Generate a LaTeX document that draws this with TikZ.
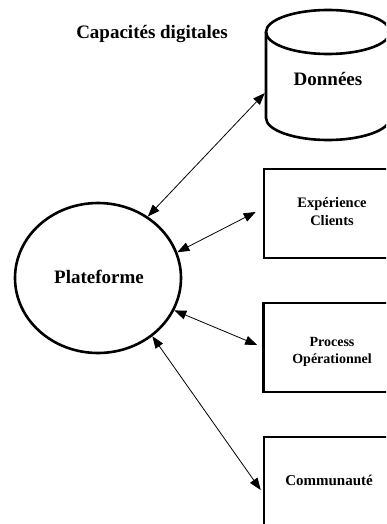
\documentclass[tikz,border=0pt]{standalone}
\usepackage{fontspec}
\setmainfont{Liberation Serif}
\usetikzlibrary{shapes.geometric,arrows.meta}
\begin{document}
\begin{tikzpicture}[x=1pt,y=-1pt,
  shapeline/.style={line width=2.6pt},
  capbox/.style={shapeline, draw, rectangle, minimum width=136pt, minimum height=89pt, inner sep=0pt},
  captext/.style={align=center, inner sep=0pt, font=\bfseries\fontsize{14.5}{18}\selectfont},
  bigtext/.style={inner sep=0pt, font=\bfseries\fontsize{19}{23}\selectfont},
  link/.style={line width=0.8pt, {Triangle[length=12pt,width=9pt]}-{Triangle[length=12pt,width=9pt]}}]
\useasboundingbox (0,0) rectangle (386,524);
\clip (0,0) rectangle (386,524);

% title
\node[bigtext, anchor=base] (title) at (152,39) {Capacités digitales};

% cylinder "Données"
\draw[shapeline] (328,32) ellipse [x radius=62, y radius=22];
\draw[shapeline] (266,32) -- (266,118) .. controls (266,130.1) and (293.8,140) .. (328,140)
  .. controls (362.2,140) and (390,130.1) .. (390,118) -- (390,32);
\node[bigtext, minimum width=124pt, minimum height=130pt] (don) at (328,78.5) {Données};

% platform
\node[shapeline, draw, ellipse, minimum width=166pt, minimum height=150pt, inner sep=0pt] (plat) at (98,278) {};
\node[bigtext] (platT) at (99,277.4) {Plateforme};

% boxes
\node[capbox] (exp) at (332,213.5) {};
\node[captext] (expT) at (332,212) {Expérience\\Clients};
\node[capbox] (proc) at (331.5,347.5) {};
\node[captext, font=\bfseries\fontsize{14}{17}\selectfont] (procT) at (332,352.3) {Process\\Opérationnel};
\node[capbox] (comm) at (332,481.5) {};
\node[captext, font=\bfseries\fontsize{15}{18}\selectfont] (commT) at (329,480) {Communauté};

% connectors
\draw[link] (plat.51) -- ([xshift=-1pt,yshift=-14.5pt]don.west);
\draw[link] (plat.18) -- ([xshift=-7pt,yshift=1.5pt]exp.west);
\draw[link] (plat.-23) -- ([xshift=-5pt,yshift=2.5pt]proc.west);
\draw[link] (plat.-47) -- ([xshift=-2pt,yshift=-8.5pt]comm.west);
\end{tikzpicture}
\end{document}
